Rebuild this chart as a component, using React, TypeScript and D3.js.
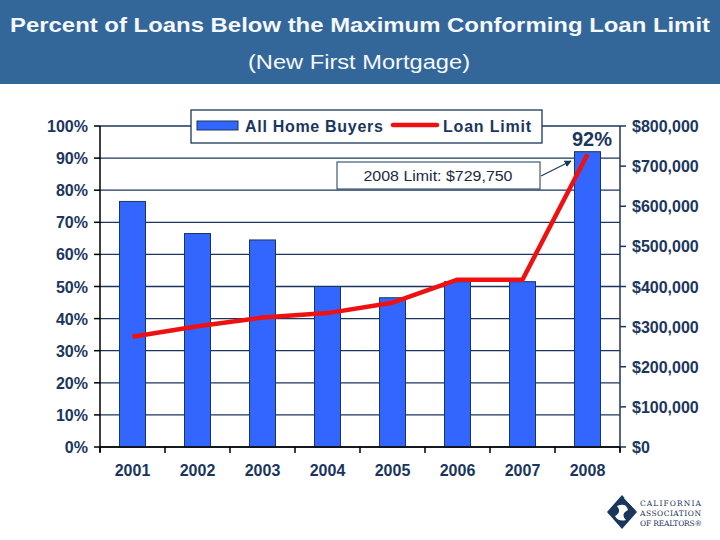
import React from "react";
import * as d3 from "d3";

const years = ["2001", "2002", "2003", "2004", "2005", "2006", "2007", "2008"];
const pctBelow = [76.5, 66.5, 64.5, 50, 46.5, 51.5, 51.5, 92];
const loanLimit = [275000, 300700, 322700, 333700, 359650, 417000, 417000, 729750];
const leftTicks = [0, 10, 20, 30, 40, 50, 60, 70, 80, 90, 100];
const rightTicks = [0, 100000, 200000, 300000, 400000, 500000, 600000, 700000, 800000];

const NAVY = "#1b365d";
const BAR = "#3366ff";
const LINE = "#ee1111";
const FONT = "Arial, 'Liberation Sans', Helvetica, sans-serif";
const SERIF = "'DejaVu Serif', 'Liberation Serif', serif";

export default function App() {
  const W = 720, H = 540;
  const left = 100, right = 620, top = 126, bottom = 447;
  const x = d3.scaleBand().domain(years).range([left, right]).paddingInner(0).paddingOuter(0);
  const yL = d3.scaleLinear().domain([0, 100]).range([bottom, top]);
  const yR = d3.scaleLinear().domain([0, 800000]).range([bottom, top]);
  const bw = x.bandwidth() * 0.4;
  const cx = (d: string) => (x(d) as number) + x.bandwidth() / 2;
  const line = d3.line<number>().x((_, i) => cx(years[i])).y((v) => yR(v));
  const fmtDollar = (v: number) => "$" + d3.format(",")(v);

  return (
    <svg width={W} height={H} style={{ position: "absolute", left: 0, top: 0, background: "#fff" }} fontFamily={FONT}>
      <rect x={0} y={0} width={W} height={H} fill="#fff" />
      {/* banner */}
      <rect x={0} y={0} width={W} height={84} fill="#336699" />
      <text x={W / 2} y={32} textAnchor="middle" fill="#f4f8ff" fontSize={21} fontWeight="bold" textLength={700} lengthAdjust="spacingAndGlyphs">
        Percent of Loans Below the Maximum Conforming Loan Limit
      </text>
      <text x={359} y={69} textAnchor="middle" fill="#f4f8ff" fontSize={20} textLength={222} lengthAdjust="spacingAndGlyphs">
        (New First Mortgage)
      </text>

      {/* gridlines */}
      {leftTicks.map((t) => (
        <line key={"g" + t} x1={left} x2={right} y1={yL(t)} y2={yL(t)} stroke={NAVY} strokeWidth={1.3} />
      ))}

      {/* bars */}
      {years.map((yr, i) => (
        <rect
          key={yr}
          x={cx(yr) - bw / 2}
          y={yL(pctBelow[i])}
          width={bw}
          height={bottom - yL(pctBelow[i])}
          fill={BAR}
          stroke={NAVY}
          strokeWidth={1}
        />
      ))}

      {/* line */}
      <path d={line(loanLimit) as string} fill="none" stroke={LINE} strokeWidth={4.5} strokeLinejoin="round" />

      {/* axes */}
      <line x1={left} x2={left} y1={top} y2={bottom + 5} stroke="#000" strokeWidth={1.5} />
      <line x1={right} x2={right} y1={top} y2={bottom + 5} stroke={NAVY} strokeWidth={1.5} />
      <line x1={left} x2={right} y1={bottom} y2={bottom} stroke="#000" strokeWidth={1.5} />
      {leftTicks.map((t) => (
        <g key={"l" + t}>
          <line x1={left - 6} x2={left} y1={yL(t)} y2={yL(t)} stroke="#000" strokeWidth={1.5} />
          <text x={left - 12} y={yL(t) + 6} textAnchor="end" fill={NAVY} fontSize={16} fontWeight="bold">
            {t}%
          </text>
        </g>
      ))}
      {rightTicks.map((t) => (
        <g key={"r" + t}>
          <line x1={right} x2={right + 6} y1={yR(t)} y2={yR(t)} stroke={NAVY} strokeWidth={1.5} />
          <text x={right + 12} y={yR(t) + 6} textAnchor="start" fill={NAVY} fontSize={16} fontWeight="bold">
            {fmtDollar(t)}
          </text>
        </g>
      ))}
      {years.map((yr) => (
        <line key={"xt" + yr} x1={x(yr) as number} x2={x(yr) as number} y1={bottom} y2={bottom + 6} stroke="#000" strokeWidth={1.5} />
      ))}
      <line x1={right} x2={right} y1={bottom} y2={bottom + 6} stroke="#000" strokeWidth={1.5} />
      {years.map((yr) => (
        <text key={"xl" + yr} x={cx(yr)} y={476} textAnchor="middle" fill={NAVY} fontSize={16} fontWeight="bold">
          {yr}
        </text>
      ))}

      {/* legend */}
      <rect x={191} y={110} width={351} height={33} fill="#fff" stroke={NAVY} strokeWidth={1.3} />
      <rect x={197} y={121} width={41} height={9} fill={BAR} stroke={NAVY} strokeWidth={1} />
      <text x={245} y={132} fill={NAVY} fontSize={16} fontWeight="bold" letterSpacing={0.7}>
        All Home Buyers
      </text>
      <line x1={393} x2={437} y1={125} y2={125} stroke={LINE} strokeWidth={4.5} strokeLinecap="round" />
      <text x={443} y={132} fill={NAVY} fontSize={16} fontWeight="bold" letterSpacing={0.8}>
        Loan Limit
      </text>

      {/* 92% label */}
      <text x={592} y={146} textAnchor="middle" fill={NAVY} fontSize={20} fontWeight="bold">
        92%
      </text>

      {/* annotation */}
      <rect x={337} y={162} width={203} height={27} fill="#fff" stroke={NAVY} strokeWidth={1} />
      <text x={438} y={181} textAnchor="middle" fill="#1a2a40" fontSize={15} textLength={149} lengthAdjust="spacingAndGlyphs">
        2008 Limit: $729,750
      </text>
      <defs>
        <marker id="arr" viewBox="0 0 10 10" refX={9} refY={5} markerWidth={6} markerHeight={6} orient="auto">
          <path d="M0,0 L10,5 L0,10 z" fill={NAVY} />
        </marker>
      </defs>
      <line x1={541} y1={176} x2={571} y2={161} stroke={NAVY} strokeWidth={1.2} markerEnd="url(#arr)" />

      {/* logo */}
      <g transform="translate(622,512)">
        <path d="M-15,0 L0,-17 L15,0 L0,17 Z" fill={NAVY} />
        <path d="M-5,-6 Q4,-10 6,-2 Q-2,2 4,8 Q-4,10 -7,4 Q0,0 -5,-6 Z" fill="#fff" />
        {[0, 1, 2, 3, 4].map((k) => (
          <line key={k} x1={2 + k * 2.5} y1={-14 + k * 2.5} x2={7 + k * 2.5} y2={-9 + k * 2.5} stroke="#fff" strokeWidth={0.8} />
        ))}
      </g>
      <text x={640} y={506} fill={NAVY} fontSize={7.5} fontFamily={SERIF} textLength={61} lengthAdjust="spacing">CALIFORNIA</text>
      <text x={640} y={516} fill={NAVY} fontSize={7.5} fontFamily={SERIF} textLength={61} lengthAdjust="spacing">ASSOCIATION</text>
      <text x={640} y={526} fill={NAVY} fontSize={7.5} fontFamily={SERIF} textLength={62} lengthAdjust="spacing">OF REALTORS®</text>
    </svg>
  );
}
